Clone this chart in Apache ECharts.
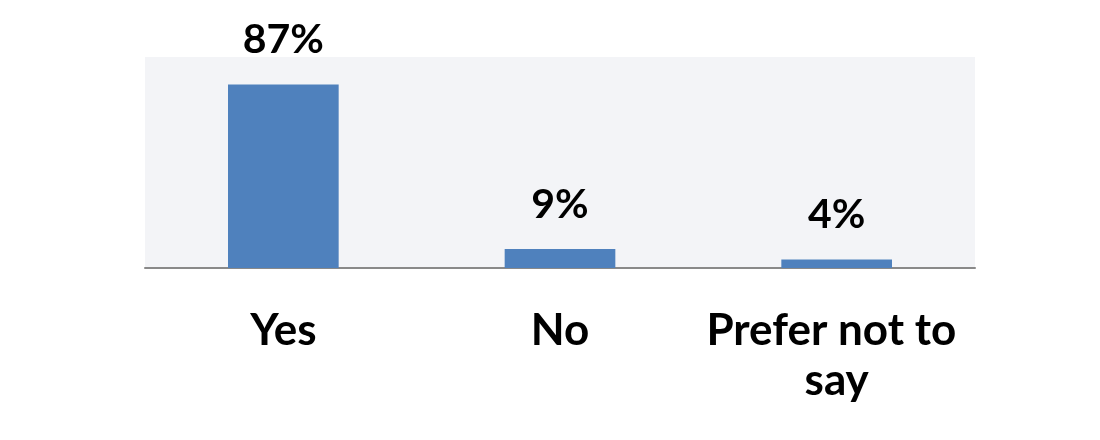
<!DOCTYPE html>
<html>
<head>
<meta charset="utf-8">
<script src="https://cdn.jsdelivr.net/npm/echarts@6/dist/echarts.min.js"></script>
<style>
  html, body { margin: 0; padding: 0; background: #fff; }
  #chart { width: 1100px; height: 440px; }
</style>
</head>
<body>
<div id="chart"></div>
<script>
// answers and share of respondents (%)
var categories = ['Yes', 'No', 'Prefer not to say'];
var shares = [87, 9, 4];

var chart = echarts.init(document.getElementById('chart'));
var labelFont = 'Lato, "Open Sans", sans-serif';

var option = {
    animation: false,
    grid: {
        left: 145,
        right: 125,
        top: 57,
        bottom: 172,
        show: true,
        backgroundColor: '#f3f4f7',
        borderWidth: 0
    },
    xAxis: {
        type: 'category',
        data: categories,
        axisLine: { lineStyle: { color: '#898989', width: 2 } },
        axisTick: { show: false },
        axisLabel: {
            color: '#000',
            fontFamily: labelFont,
            fontWeight: 'bold',
            fontSize: 44,
            margin: 38,
            lineHeight: 50,
            width: 270,
            overflow: 'break',
            interval: 0
        }
    },
    yAxis: {
        type: 'value',
        min: 0,
        max: 100,
        show: false,
        splitLine: { show: false }
    },
    series: [{
        type: 'bar',
        data: shares,
        barWidth: '40%',
        itemStyle: { color: '#4f81bd' },
        label: {
            show: true,
            position: 'top',
            distance: 24,
            formatter: '{c}%',
            color: '#000',
            fontFamily: labelFont,
            fontWeight: 'bold',
            fontSize: 41
        }
    }]
};
chart.setOption(option);
</script>
</body>
</html>
